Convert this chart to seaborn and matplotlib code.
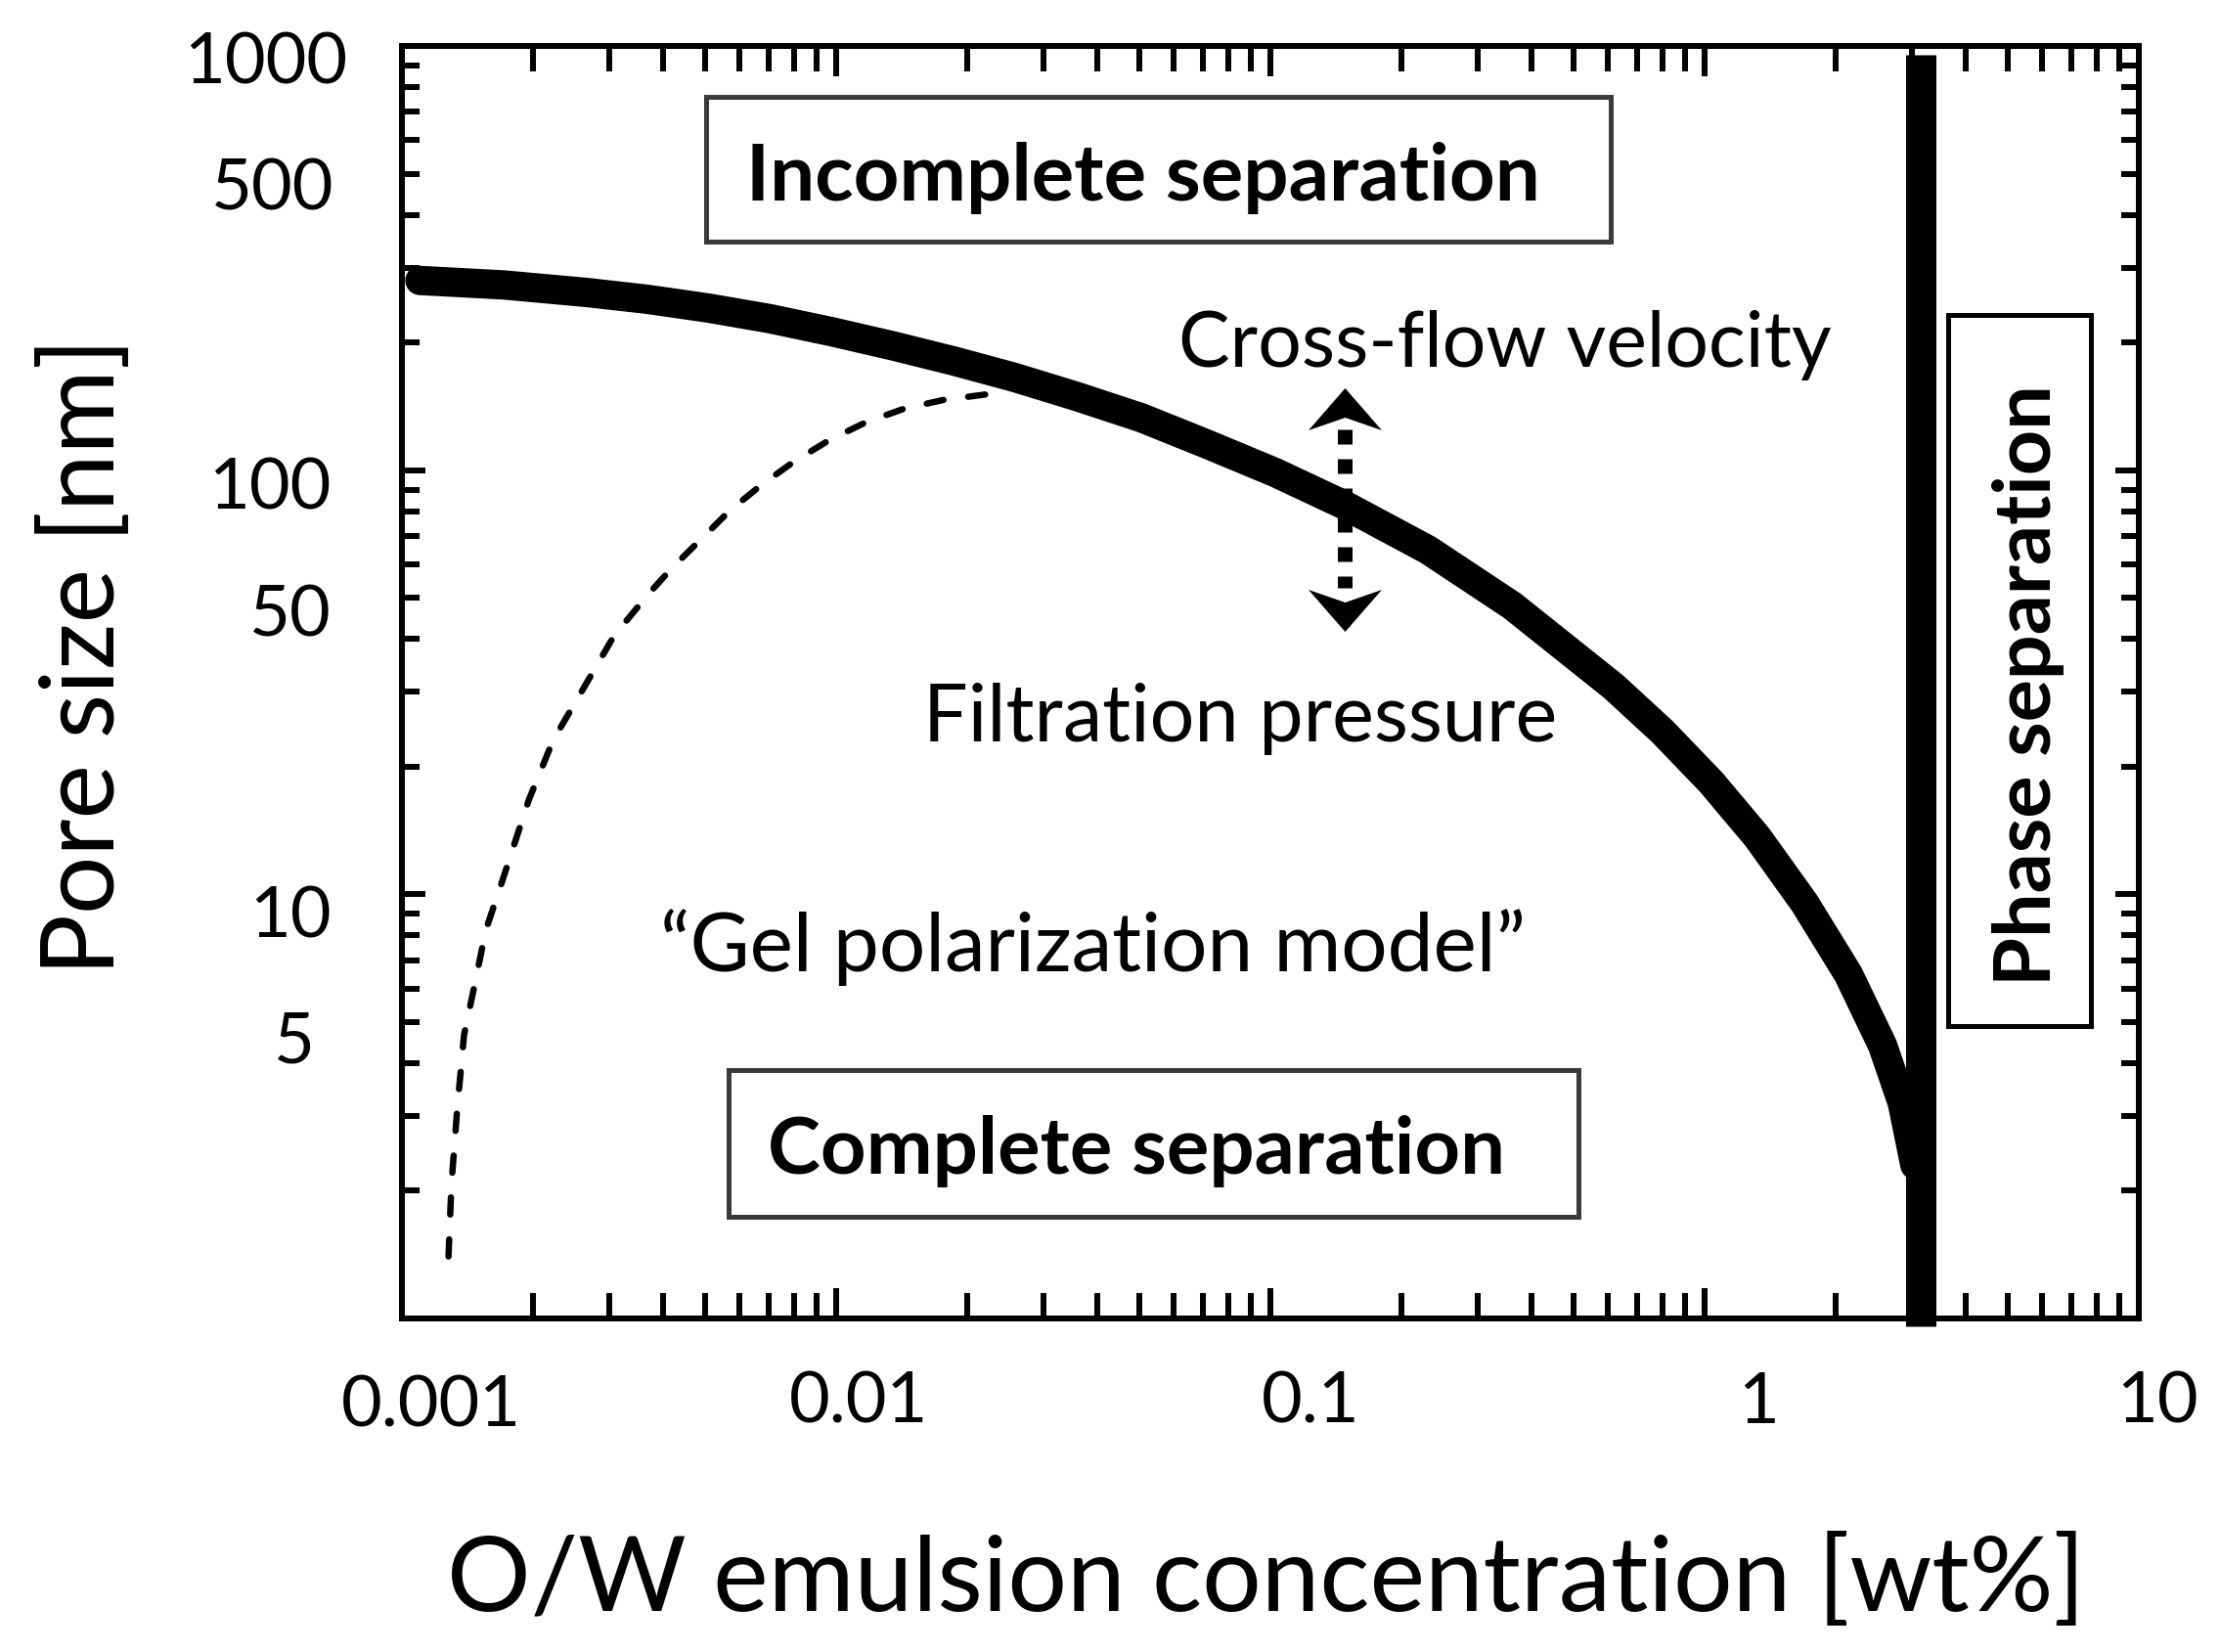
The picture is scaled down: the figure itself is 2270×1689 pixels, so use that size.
import numpy as np
import pandas as pd
import matplotlib
matplotlib.use("Agg")
import matplotlib.pyplot as plt
import seaborn as sns
from matplotlib.path import Path
from matplotlib.patches import Rectangle
from matplotlib.transforms import ScaledTranslation
from matplotlib.ticker import FixedLocator, LogLocator, FuncFormatter

# ---------------- data ----------------
boundary_conc = [0.0011, 0.001715, 0.002666, 0.003675, 0.005096, 0.007027, 0.009743,
                 0.01344, 0.01864, 0.0257, 0.03563, 0.05043, 0.07139, 0.1026, 0.1475,
                 0.2305, 0.36, 0.6173, 0.8002, 1.037, 1.323, 1.697, 2.143, 2.57,
                 2.851, 3.05]
boundary_pore = [280, 273.3, 262.3, 252.8, 240.9, 227.6, 212.1,
                 196.6, 180.9, 165.5, 149.4, 132.9, 115.2, 98.7, 82.9,
                 64.9, 47.96, 30.87, 24.17, 18.34, 13.63, 9.55, 6.48, 4.40,
                 3.23, 2.30]

gel_conc = [0.00128, 0.0013, 0.00134, 0.00139, 0.00147, 0.00156, 0.00172, 0.00196,
            0.00223, 0.00256, 0.00308, 0.0037, 0.00418, 0.00489, 0.00569, 0.00671,
            0.00799, 0.00964, 0.01166, 0.0143, 0.0176, 0.0232]
gel_pore = [1.40, 2.07, 3.10, 4.66, 6.11, 8.23, 11.1, 16.7,
            23.1, 29.4, 40.7, 51.1, 58.7, 68.8, 80.3, 92.1,
            104.7, 117.7, 129.4, 139.5, 146.3, 151.8]

phase_sep_conc = 3.15
arrow_conc = 0.148
arrow_shaft_pore = [124.7, 52.8]
arrow_head_up_pore = 139.8
arrow_head_down_pore = 46.6

x_ticks = [0.001, 0.01, 0.1, 1, 10]
x_tick_labels = ["0.001", "0.01", "0.1", "1", "10"]
y_major_ticks = [1, 10, 100, 1000]
y_tick_labels = {5: "5", 10: "10", 50: "50", 100: "100", 500: "500", 1000: "1000"}

x_label = "O/W emulsion concentration [wt%]"
y_label = "Pore size [nm]"
txt_incomplete = "Incomplete separation"
txt_complete = "Complete separation"
txt_phase = "Phase separation"
txt_cross = "Cross-flow velocity"
txt_filtration = "Filtration pressure"
txt_gel = "\u201cGel polarization model\u201d"

# ---------------- style ----------------
sns.set_theme(style="white")
plt.rcParams['font.family'] = ['Lato', 'DejaVu Sans']
plt.rcParams['text.color'] = 'black'

DPI = 100
PX = 72 / DPI  # points per pixel
W, H = 2270, 1690
AX_L, AX_R, AX_T, AX_B = 411, 2187, 48, 1349

fig = plt.figure(figsize=(W / DPI, H / DPI), dpi=DPI, facecolor='white')
ax = fig.add_axes([AX_L / W, 1 - AX_B / H, (AX_R - AX_L) / W, (AX_B - AX_T) / H])
ax.set_facecolor('white')
ax.set_xscale('log')
ax.set_yscale('log')

df_boundary = pd.DataFrame({'conc': boundary_conc, 'pore': boundary_pore})
df_gel = pd.DataFrame({'conc': gel_conc, 'pore': gel_pore})

sns.lineplot(data=df_boundary, x='conc', y='pore', sort=False, estimator=None,
             color='black', linewidth=30 * PX, solid_capstyle='round',
             solid_joinstyle='round', ax=ax, zorder=3)
sns.lineplot(data=df_gel, x='conc', y='pore', sort=False, estimator=None,
             color='black', linewidth=6.5 * PX, linestyle=(0, (2.7, 3.9)),
             dash_capstyle='round', ax=ax, zorder=3)

ax.axvline(phase_sep_conc, ymin=-0.006, ymax=0.993, color='black',
           linewidth=31 * PX, solid_capstyle='butt', clip_on=False, zorder=4)

# dotted double arrow
ax.plot([arrow_conc, arrow_conc], arrow_shaft_pore, color='black', linewidth=15 * PX,
        linestyle=(0, (1, 1)), dash_capstyle='butt', zorder=3)
up_head = Path([(0, 21.5), (37.5, -21.5), (0, -8.5), (-37.5, -21.5), (0, 21.5)],
               [Path.MOVETO, Path.LINETO, Path.LINETO, Path.LINETO, Path.CLOSEPOLY])
down_head = Path([(0, -21.5), (37.5, 21.5), (0, 8.5), (-37.5, 21.5), (0, -21.5)],
                 [Path.MOVETO, Path.LINETO, Path.LINETO, Path.LINETO, Path.CLOSEPOLY])
ax.plot([arrow_conc], [arrow_head_up_pore], marker=up_head, markersize=75 * PX,
        color='black', markeredgewidth=0, linestyle='none', zorder=3)
ax.plot([arrow_conc], [arrow_head_down_pore], marker=down_head, markersize=75 * PX,
        color='black', markeredgewidth=0, linestyle='none', zorder=3)

ax.set_xlim(0.001, 10)
ax.set_ylim(1, 1000)

# ---------------- ticks ----------------
ax.xaxis.set_major_locator(FixedLocator(x_ticks))
ax.xaxis.set_minor_locator(LogLocator(base=10, subs=np.arange(2, 10), numticks=50))
ax.xaxis.set_major_formatter(FuncFormatter(
    lambda v, p: next((l for t, l in zip(x_ticks, x_tick_labels) if np.isclose(v, t)), "")))
ax.xaxis.set_minor_formatter(FuncFormatter(lambda v, p: ""))

ax.yaxis.set_major_locator(FixedLocator(y_major_ticks))
ax.yaxis.set_minor_locator(LogLocator(base=10, subs=np.arange(2, 10), numticks=50))


def y_fmt(v, p):
    for k, s in y_tick_labels.items():
        if np.isclose(v, k):
            return s
    return ""


ax.yaxis.set_major_formatter(FuncFormatter(y_fmt))
ax.yaxis.set_minor_formatter(FuncFormatter(y_fmt))

ax.tick_params(which='both', direction='in', top=True, right=True, bottom=True, left=True,
               color='black', width=6 * PX, labelsize=52, labelcolor='black')
ax.tick_params(axis='x', which='major', length=31 * PX, pad=38)
ax.tick_params(axis='x', which='minor', length=26 * PX, pad=38)
ax.tick_params(axis='y', which='major', length=24 * PX, pad=52)
ax.tick_params(axis='y', which='minor', length=18 * PX, pad=52)

for s in ax.spines.values():
    s.set_visible(True)
    s.set_linewidth(6 * PX)
    s.set_color('black')
    s.set_zorder(2.5)

ax.grid(False)

# ---------------- axis labels ----------------
ax.set_xlabel(x_label, fontsize=72, color='black')
ax.xaxis.label.set_va('baseline')
ax.xaxis.set_label_coords(0.4977, -0.2291)
ax.set_ylabel(y_label, fontsize=72, color='black')
ax.yaxis.label.set_va('baseline')
ax.yaxis.set_label_coords(-0.1655, 0.5211)

# ---------------- boxes and annotations ----------------
def box(x0, y0, x1, y1, ec, lw):
    ax.add_patch(Rectangle((x0, y0), x1 - x0, y1 - y0, transform=ax.transAxes,
                           facecolor='white', edgecolor=ec, linewidth=lw * PX,
                           zorder=2, clip_on=False))


box(0.1751, 0.8463, 0.6959, 0.9600, '#3a3a3a', 5)
box(0.1881, 0.0799, 0.6774, 0.1952, '#3a3a3a', 5)
box(0.8902, 0.2298, 0.9724, 0.7886, 'black', 5)

t_inc = ax.text(0.4268, 0.8793, txt_incomplete, transform=ax.transAxes, ha='center',
                va='baseline', fontsize=60, fontweight='bold', zorder=5)
t_com = ax.text(0.4229, 0.1145, txt_complete, transform=ax.transAxes, ha='center',
                va='baseline', fontsize=60, fontweight='bold', zorder=5)
t_pha = ax.text(0.9493, 0.4981, txt_phase, transform=ax.transAxes, ha='center',
                va='baseline', rotation=90, rotation_mode='anchor', fontsize=57,
                fontweight='bold', zorder=5)
t_cro = ax.text(0.6351, 0.7487, txt_cross, transform=ax.transAxes, ha='center',
                va='baseline', fontsize=54, zorder=5)
t_fil = ax.text(0.4825, 0.4543, txt_filtration, transform=ax.transAxes, ha='center',
                va='baseline', fontsize=54, zorder=5)
t_gel = ax.text(0.3981, 0.2736, txt_gel, transform=ax.transAxes, ha='center',
                va='baseline', fontsize=54, zorder=5)

# fit text lengths to the reference
fig.canvas.draw()
renderer = fig.canvas.get_renderer()
fits = [(t_inc, 810, False), (t_com, 754, False), (t_pha, 615, True),
        (t_cro, 668, False), (t_fil, 647, False), (t_gel, 885, False),
        (ax.xaxis.label, 1677, False), (ax.yaxis.label, 652, True)]
for t, target, vertical in fits:
    bb = t.get_window_extent(renderer)
    length = bb.height if vertical else bb.width
    t.set_fontsize(t.get_fontsize() * target / length)

# per-label nudges (px: right, down) to mimic the original label placement
x_nudge = {0.001: (30, 4), 0.01: (23, 0), 0.1: (41, 0), 1: (55, 0), 10: (19, 0)}
y_nudge = {1000: (16, 11), 500: (3, 9), 100: (0, 12), 50: (0, 12), 10: (0, 17), 5: (-17, 14)}
for tick in ax.xaxis.get_major_ticks():
    for k, (dx, dy) in x_nudge.items():
        if np.isclose(tick.get_loc(), k):
            tick.label1.set_transform(tick.label1.get_transform() +
                                      ScaledTranslation(dx / DPI, -dy / DPI, fig.dpi_scale_trans))
for tick in ax.yaxis.get_major_ticks() + ax.yaxis.get_minor_ticks():
    for k, (dx, dy) in y_nudge.items():
        if np.isclose(tick.get_loc(), k):
            tick.label1.set_transform(tick.label1.get_transform() +
                                      ScaledTranslation(dx / DPI, -dy / DPI, fig.dpi_scale_trans))

fig.savefig("out.png", dpi=DPI, facecolor='white')
